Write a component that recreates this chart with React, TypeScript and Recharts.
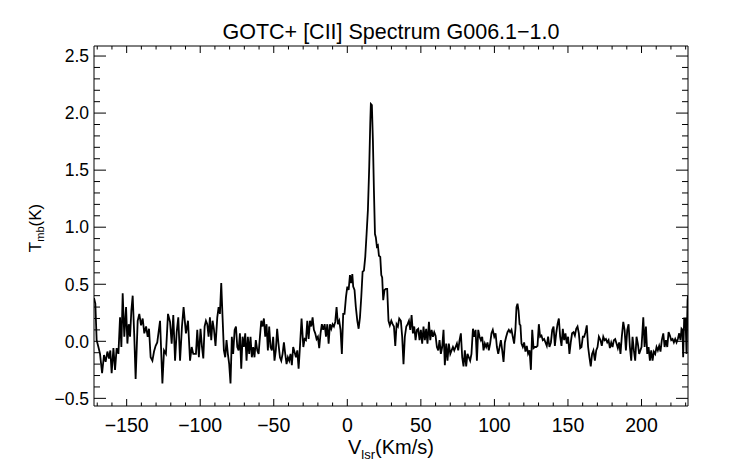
import { LineChart, Line, XAxis, YAxis } from "recharts";

// LSR velocity (km/s) of each channel
const velocity = [
  -172.2, -171.3, -170.4, -169.2, -168.1, -166.7, -165.4, -164.3, -163.1, -162.0,
  -161.1, -160.2, -159.0, -157.9, -156.8, -155.6, -154.5, -153.6, -152.7, -151.6,
  -150.4, -149.5, -148.6, -147.7, -146.8, -145.9, -144.8, -143.9, -142.5, -141.4,
  -140.2, -139.1, -138.0, -136.8, -135.7, -134.8, -133.7, -132.5, -131.4, -130.3,
  -129.2, -127.3, -125.7, -124.6, -123.3, -121.9, -120.5, -119.4, -118.3, -117.1,
  -116.0, -114.9, -113.7, -112.4, -111.3, -109.7, -108.3, -106.9, -105.8, -104.7,
  -102.9, -102.0, -100.9, -99.8, -98.8, -97.9, -97.0, -96.1, -95.2, -94.3,
  -93.4, -92.5, -91.6, -90.7, -89.6, -88.4, -87.5, -86.6, -85.7, -84.8,
  -83.9, -83.0, -82.1, -81.2, -80.3, -79.4, -78.5, -77.6, -76.6, -75.7,
  -74.8, -73.9, -73.0, -72.1, -71.2, -70.3, -69.4, -68.5, -67.6, -66.7,
  -65.8, -64.9, -64.0, -63.1, -62.2, -61.2, -60.3, -59.4, -58.5, -57.6,
  -56.7, -55.8, -54.9, -54.0, -53.1, -52.2, -51.3, -50.4, -49.5, -48.6,
  -47.7, -46.8, -45.8, -44.9, -44.0, -43.1, -42.2, -41.3, -40.4, -39.5,
  -38.6, -37.7, -36.8, -34.9, -34.0, -33.1, -32.2, -31.1, -29.9, -29.0,
  -28.1, -27.2, -26.3, -25.4, -24.5, -23.6, -22.7, -21.8, -20.9, -20.0,
  -19.1, -18.2, -17.3, -16.4, -15.4, -14.5, -13.6, -12.7, -11.8, -10.9,
  -10.0, -9.1, -8.2, -7.3, -6.4, -5.5, -4.6, -3.7, -2.8, -1.9,
  -0.9, 0.0, 0.9, 1.8, 2.7, 3.4, 4.0, 4.9, 5.8, 6.8,
  7.7, 8.6, 9.5, 10.4, 11.3, 12.2, 13.1, 14.0, 14.9, 15.6,
  16.0, 16.7, 17.4, 18.1, 18.8, 19.4, 20.1, 20.8, 21.5, 22.4,
  23.1, 23.7, 24.4, 25.3, 26.2, 27.1, 28.0, 28.9, 29.9, 30.8,
  31.7, 32.6, 33.5, 34.4, 35.3, 36.4, 37.3, 38.2, 39.1, 40.1,
  41.0, 41.9, 42.8, 43.7, 44.6, 45.5, 46.4, 47.3, 48.2, 49.1,
  50.0, 50.9, 51.8, 52.7, 53.6, 54.5, 55.5, 56.4, 57.3, 58.2,
  59.1, 60.0, 60.9, 61.8, 62.7, 63.6, 64.5, 65.4, 66.3, 67.2,
  68.1, 69.0, 70.0, 70.9, 71.8, 72.7, 73.6, 74.5, 75.4, 76.3,
  77.2, 78.1, 79.0, 79.9, 80.8, 81.7, 82.6, 83.5, 84.4, 85.4,
  86.3, 87.2, 88.1, 89.0, 89.9, 90.8, 91.7, 92.6, 93.5, 94.4,
  95.3, 96.2, 97.1, 98.0, 98.9, 99.9, 100.8, 101.7, 102.6, 104.4,
  105.3, 106.2, 107.1, 108.0, 108.9, 109.8, 110.7, 111.6, 112.5, 113.4,
  114.3, 115.0, 115.7, 116.4, 117.1, 117.7, 118.4, 119.3, 120.2, 121.1,
  122.0, 122.9, 123.9, 124.8, 125.7, 126.6, 127.5, 128.4, 129.3, 130.2,
  131.1, 132.0, 132.9, 133.8, 134.7, 135.6, 136.5, 137.4, 138.4, 139.3,
  140.2, 141.1, 142.0, 142.9, 143.8, 144.7, 145.6, 146.5, 147.4, 148.3,
  149.2, 150.1, 151.0, 151.9, 152.8, 153.8, 154.7, 155.6, 156.5, 157.4,
  158.3, 159.2, 160.1, 161.0, 161.9, 162.8, 163.7, 164.6, 165.5, 166.4,
  167.3, 168.3, 169.2, 170.1, 171.0, 172.1, 173.0, 174.0, 174.9, 175.8,
  176.7, 177.6, 178.5, 179.4, 180.3, 181.2, 182.1, 183.0, 183.9, 184.8,
  185.7, 186.6, 187.6, 188.5, 189.4, 190.3, 191.2, 192.1, 193.0, 193.9,
  194.8, 195.7, 196.6, 197.5, 198.4, 200.0, 201.2, 202.1, 203.0, 203.9,
  204.8, 205.7, 206.6, 207.5, 208.4, 209.3, 210.2, 211.1, 212.0, 212.9,
  213.8, 214.8, 215.7, 216.6, 217.5, 218.4, 219.3, 220.2, 221.1, 222.0,
  222.9, 223.8, 224.7, 225.6, 226.5, 227.2, 227.9, 228.3, 229.0, 229.9,
  230.6, 231.3, 231.6,
];

// main-beam temperature (K) for each channel
const tmb = [
  0.38, 0.33, 0.01, -0.05, -0.11, -0.28, -0.12, -0.18, -0.09, -0.15,
  -0.08, -0.28, -0.06, -0.25, -0.06, -0.11, 0.21, -0.05, 0.42, 0.04,
  0.30, -0.02, 0.15, 0.04, 0.27, 0.40, 0.04, -0.33, 0.18, 0.24,
  0.14, 0.20, 0.07, 0.13, 0.04, 0.11, -0.14, -0.17, -0.09, -0.04,
  -0.01, 0.18, -0.37, -0.08, -0.11, 0.24, 0.17, -0.02, 0.23, -0.17,
  0.08, 0.21, -0.17, 0.13, 0.30, 0.07, 0.18, -0.17, -0.05, -0.11,
  -0.11, 0.10, -0.14, 0.11, -0.05, -0.15, 0.13, 0.18, 0.15, 0.04,
  0.21, 0.01, 0.18, 0.11, -0.04, 0.21, 0.30, 0.24, 0.51, 0.21,
  -0.08, -0.14, 0.01, -0.11, -0.20, -0.37, 0.04, -0.11, 0.10, 0.13,
  -0.05, -0.08, 0.07, -0.24, 0.04, -0.05, 0.07, -0.17, 0.04, -0.11,
  0.04, -0.14, -0.05, -0.14, 0.01, -0.08, -0.11, 0.04, 0.18, 0.13,
  0.20, 0.04, 0.15, -0.08, 0.13, -0.05, -0.08, 0.04, -0.17, -0.08,
  0.11, -0.02, -0.14, -0.17, -0.11, -0.01, -0.11, -0.20, -0.14, -0.17,
  -0.11, -0.21, -0.05, -0.14, -0.08, -0.24, -0.05, 0.20, -0.05, 0.02,
  0.01, 0.18, 0.02, 0.18, 0.13, 0.21, 0.10, 0.07, 0.02, 0.04,
  -0.06, 0.07, 0.15, 0.10, 0.15, 0.04, 0.15, -0.02, 0.15, 0.11,
  0.15, 0.13, 0.17, 0.30, 0.15, 0.18, 0.10, -0.11, 0.24, 0.24,
  0.39, 0.48, 0.45, 0.58, 0.51, 0.59, 0.48, 0.45, 0.30, 0.18,
  0.11, 0.21, 0.39, 0.61, 0.62, 0.74, 0.94, 1.15, 1.53, 1.91,
  2.08, 2.07, 1.76, 1.32, 0.94, 0.91, 0.83, 0.84, 0.75, 0.74,
  0.58, 0.56, 0.36, 0.45, 0.46, 0.46, 0.18, 0.14, 0.18, 0.15,
  0.13, -0.04, 0.15, 0.13, 0.20, 0.18, 0.04, -0.20, 0.04, 0.13,
  0.15, 0.18, 0.10, 0.23, 0.07, 0.13, 0.01, 0.10, 0.11, 0.01,
  0.10, -0.02, 0.13, 0.01, 0.11, -0.02, 0.17, 0.01, 0.10, 0.04,
  0.08, 0.05, -0.05, -0.08, 0.01, -0.11, -0.05, 0.10, -0.21, -0.02,
  -0.17, -0.02, -0.11, -0.08, -0.05, -0.08, -0.05, -0.02, -0.08, 0.01,
  0.07, -0.14, -0.22, -0.08, -0.22, -0.11, -0.14, -0.17, -0.11, 0.11,
  0.04, 0.10, -0.17, 0.10, 0.04, 0.01, 0.04, -0.08, -0.02, -0.05,
  -0.01, -0.08, -0.02, 0.07, 0.10, 0.04, 0.07, -0.05, -0.11, 0.01,
  -0.08, -0.18, -0.01, 0.04, 0.08, 0.10, 0.08, 0.10, 0.04, -0.02,
  0.11, 0.30, 0.33, 0.27, 0.15, 0.14, -0.02, -0.05, -0.01, -0.09,
  -0.04, -0.11, -0.08, -0.25, 0.10, -0.06, -0.05, -0.05, -0.04, 0.15,
  0.04, 0.05, 0.01, 0.02, -0.01, -0.04, 0.04, -0.05, -0.01, 0.10,
  0.13, -0.04, 0.07, 0.15, 0.20, 0.04, -0.04, 0.11, 0.01, 0.07,
  -0.02, 0.04, -0.11, -0.01, 0.07, 0.08, 0.05, 0.11, 0.13, 0.07,
  -0.06, -0.05, 0.04, 0.04, 0.08, 0.14, -0.05, -0.14, -0.22, -0.11,
  -0.08, -0.17, -0.08, -0.05, 0.04, 0.01, -0.04, 0.04, 0.01, 0.02,
  -0.01, 0.01, -0.06, -0.01, -0.05, 0.01, 0.02, -0.02, -0.06, -0.01,
  -0.11, 0.04, 0.17, 0.10, -0.08, 0.10, 0.15, -0.05, -0.17, 0.04,
  -0.08, -0.17, 0.04, -0.02, -0.11, -0.05, 0.21, -0.05, 0.13, -0.11,
  -0.05, -0.17, -0.08, -0.17, -0.09, -0.11, -0.05, -0.08, -0.04, -0.09,
  0.01, 0.07, -0.05, 0.01, -0.05, 0.08, 0.05, 0.01, 0.02, -0.01,
  0.02, -0.01, 0.02, 0.07, 0.01, 0.11, 0.10, -0.14, 0.20, 0.20,
  -0.11, 0.36, 0.40,
];

const xMajorTicks = [-150, -100, -50, 0, 50, 100, 150, 200];
const xMinorTicks = [
  -170, -160, -150, -140, -130, -120, -110, -100, -90, -80, -70, -60, -50, -40, -30, -20, -10,
  0, 10, 20, 30, 40, 50, 60, 70, 80, 90, 100, 110, 120, 130, 140, 150, 160, 170, 180, 190, 200,
  210, 220, 230,
];
const yMajorTicks = [-0.5, 0, 0.5, 1, 1.5, 2, 2.5];
const yMinorTicks = [
  -0.5, -0.4, -0.3, -0.2, -0.1, 0, 0.1, 0.2, 0.3, 0.4, 0.5, 0.6, 0.7, 0.8, 0.9, 1, 1.1, 1.2,
  1.3, 1.4, 1.5, 1.6, 1.7, 1.8, 1.9, 2, 2.1, 2.2, 2.3, 2.4, 2.5,
];

const title = "GOTC+ [CII] Spectrum G006.1\u22121.0";

const data = velocity.map((v, i) => ({ v, t: tmb[i] }));

const FONT = "'Liberation Sans', Arial, Helvetica, sans-serif";
const X_DOMAIN = [-172.2, 231.6];
const Y_DOMAIN = [-0.567, 2.588];

const isMajor = (list: number[], v: number) => list.some((m) => Math.abs(m - v) < 1e-6);
const fmt = (n: number, digits: number) => {
  const s = Math.abs(n).toFixed(digits);
  return n < -1e-9 ? "\u2212" + s : s;
};

function BottomTick({ x, y, payload }: any) {
  const major = isMajor(xMajorTicks, payload.value);
  return (
    <g>
      <line x1={x} y1={y} x2={x} y2={y - (major ? 7 : 3.5)} stroke="#000" strokeWidth={1} />
      {major && (
        <text x={x} y={y + 26} textAnchor="middle" fontSize={19.5} fontFamily={FONT} fill="#000">
          {fmt(payload.value, 0)}
        </text>
      )}
    </g>
  );
}

function TopTick({ x, y, payload }: any) {
  const major = isMajor(xMajorTicks, payload.value);
  return <line x1={x} y1={y} x2={x} y2={y + (major ? 7 : 3.5)} stroke="#000" strokeWidth={1} />;
}

function LeftTick({ x, y, payload }: any) {
  const major = isMajor(yMajorTicks, payload.value);
  return (
    <g>
      <line x1={x} y1={y} x2={x + (major ? 12 : 6)} y2={y} stroke="#000" strokeWidth={1} />
      {major && (
        <text x={x - 5} y={y + 6.3} textAnchor="end" fontSize={17.5} fontFamily={FONT} fill="#000">
          {fmt(payload.value, 1)}
        </text>
      )}
    </g>
  );
}

function RightTick({ x, y, payload }: any) {
  const major = isMajor(yMajorTicks, payload.value);
  return <line x1={x} y1={y} x2={x - (major ? 12 : 6)} y2={y} stroke="#000" strokeWidth={1} />;
}

export default function App() {
  return (
    <div style={{ position: "absolute", left: 0, top: 0, width: 742, height: 464, background: "#fff" }}>
      <LineChart width={742} height={464} data={data} margin={{ top: 45, right: 53, bottom: 0, left: 0 }}>
        <XAxis
          xAxisId="b"
          type="number"
          dataKey="v"
          domain={X_DOMAIN}
          allowDataOverflow
          ticks={xMinorTicks}
          interval={0}
          height={58}
          tickSize={0}
          tickMargin={0}
          tickLine={false}
          axisLine={{ stroke: "#000", strokeWidth: 1 }}
          tick={(p: any) => <BottomTick {...p} />}
        />
        <XAxis
          xAxisId="t"
          orientation="top"
          type="number"
          dataKey="v"
          domain={X_DOMAIN}
          allowDataOverflow
          ticks={xMinorTicks}
          interval={0}
          height={1}
          tickSize={0}
          tickMargin={0}
          tickLine={false}
          axisLine={{ stroke: "#000", strokeWidth: 1 }}
          tick={(p: any) => <TopTick {...p} />}
        />
        <YAxis
          yAxisId="l"
          type="number"
          domain={Y_DOMAIN}
          allowDataOverflow
          ticks={yMinorTicks}
          interval={0}
          width={94}
          tickSize={0}
          tickMargin={0}
          tickLine={false}
          axisLine={{ stroke: "#000", strokeWidth: 1 }}
          tick={(p: any) => <LeftTick {...p} />}
        />
        <YAxis
          yAxisId="r"
          orientation="right"
          type="number"
          domain={Y_DOMAIN}
          allowDataOverflow
          ticks={yMinorTicks}
          interval={0}
          width={1}
          tickSize={0}
          tickMargin={0}
          tickLine={false}
          axisLine={{ stroke: "#000", strokeWidth: 1 }}
          tick={(p: any) => <RightTick {...p} />}
        />
        {/* invisible copy so the top/right frame axes have a series of their own */}
        <Line
          xAxisId="t"
          yAxisId="r"
          type="linear"
          dataKey="t"
          stroke="none"
          strokeWidth={0}
          dot={false}
          activeDot={false}
          isAnimationActive={false}
        />
        <Line
          xAxisId="b"
          yAxisId="l"
          type="linear"
          dataKey="t"
          stroke="#000"
          strokeWidth={1.8}
          strokeLinejoin="miter"
          dot={false}
          activeDot={false}
          isAnimationActive={false}
        />
      </LineChart>
      <svg
        width={742}
        height={464}
        style={{ position: "absolute", left: 0, top: 0, pointerEvents: "none" }}
      >
        <text x={391} y={39} textAnchor="middle" fontSize={21.5} fontFamily={FONT} fill="#000">
          {title}
        </text>
        <text x={391} y={454} textAnchor="middle" fontSize={20} fontFamily={FONT} fill="#000">
          V
          <tspan fontSize={13} dy={5}>
            lsr
          </tspan>
          <tspan fontSize={20} dy={-5}>
            (Km/s)
          </tspan>
        </text>
        <text
          transform="translate(41,228) rotate(-90)"
          textAnchor="middle"
          fontSize={17}
          fontFamily={FONT}
          fill="#000"
        >
          T
          <tspan fontSize={11} dy={3}>
            mb
          </tspan>
          <tspan fontSize={17} dy={-3}>
            (K)
          </tspan>
        </text>
      </svg>
    </div>
  );
}
